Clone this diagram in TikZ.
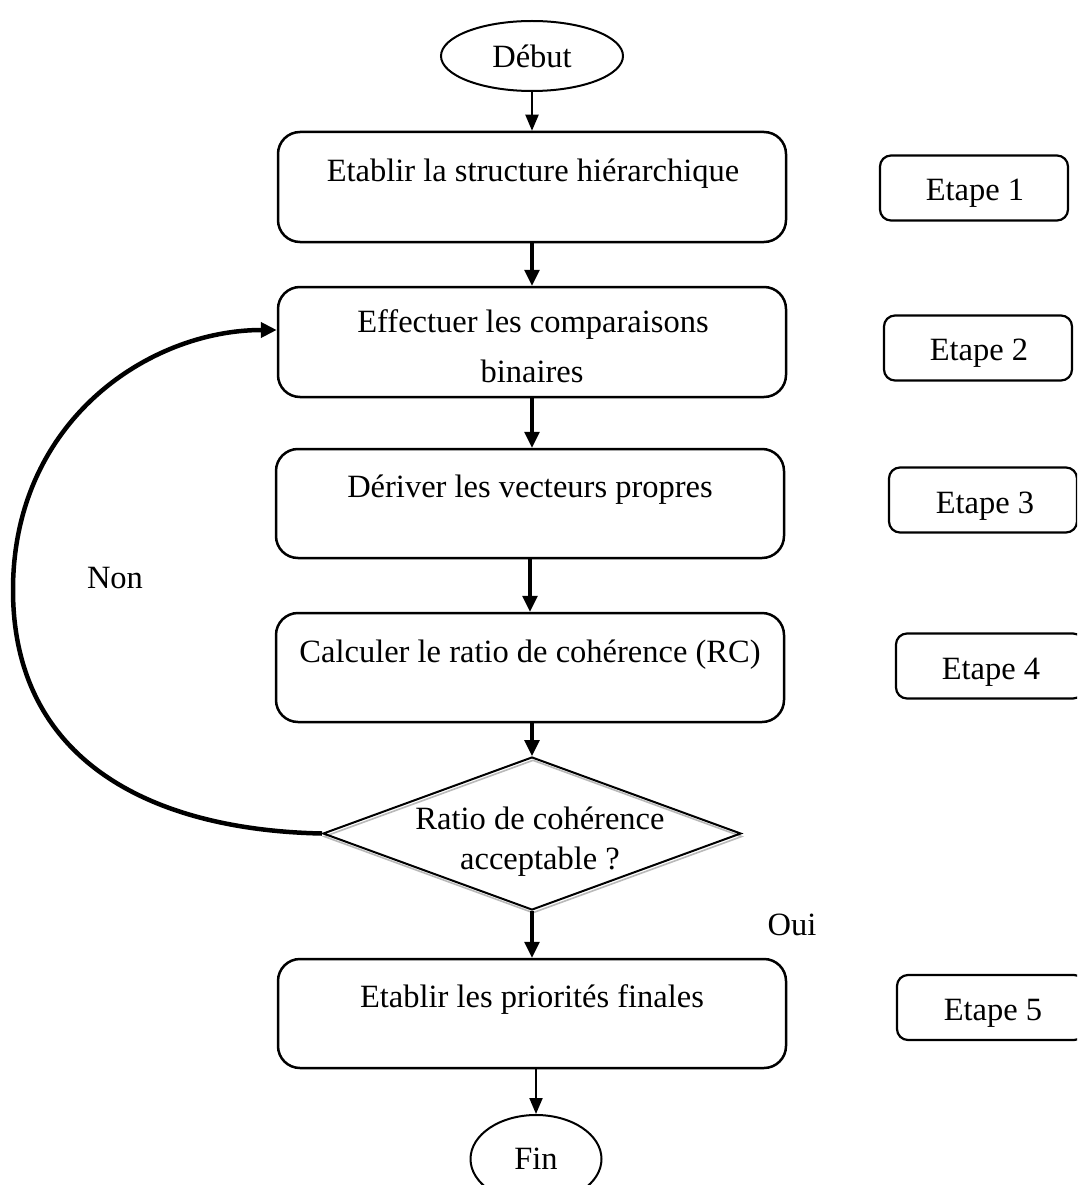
\documentclass[tikz,border=0pt]{standalone}
\usepackage{fontspec}
\setmainfont{Liberation Serif}
\usetikzlibrary{arrows.meta,shapes.geometric}
\begin{document}
\begin{tikzpicture}[x=1pt,y=-1pt,
  every node/.style={font=\fontsize{32.5}{38}\selectfont},
  box/.style={draw, line width=2.5pt, rounded corners=22pt, minimum width=508pt, minimum height=110pt, inner sep=0pt},
  stepbox/.style={draw, line width=2.2pt, rounded corners=11pt, minimum width=188pt, minimum height=65pt, inner sep=0pt},
  lbl/.style={inner sep=0pt},
  oval/.style={draw, ellipse, line width=2pt, inner sep=0pt},
  dmd/.style={diamond, inner sep=0pt, minimum width=418pt, minimum height=153pt},
  thickarrow/.style={line width=3.2pt, -{Triangle[length=16pt,width=15pt]}},
  thinarrow/.style={line width=2pt, -{Triangle[length=16pt,width=13pt]}},
  loop/.style={line width=4.5pt, -{Triangle[length=16pt,width=15pt]}},
]
\clip (0,0) rectangle (1077,1185);
\fill[white] (0,0) rectangle (1077,1185);

% start / end
\node[oval, minimum width=182pt, minimum height=70pt] (debut) at (532,56) {Début};
\node[oval, minimum width=131pt, minimum height=88pt] (fin) at (536,1159) {Fin};

% main boxes
\node[box] (b1) at (532,187) {};
\node[lbl] (t1) at (533,174) {Etablir la structure hiérarchique};
\node[box] (b2) at (532,342) {};
\node[lbl] (t2a) at (533,325) {Effectuer les comparaisons};
\node[lbl] (t2b) at (532,371) {binaires};
\node[box, minimum height=109pt] (b3) at (530,503.5) {};
\node[lbl] (t3) at (530,490) {Dériver les vecteurs propres};
\node[box, minimum height=109pt] (b4) at (530,667.5) {};
\node[lbl] (t4) at (530,655) {Calculer le ratio de cohérence (RC)};
\node[box, minimum height=109pt] (b5) at (532,1013.5) {};
\node[lbl] (t5) at (532,1000) {Etablir les priorités finales};

% decision
\node[dmd, draw=gray!55, line width=1.6pt] (diash) at (533,836.5) {};
\node[dmd, draw, line width=2pt] (dia) at (532,833.5) {};
\node[lbl] (td1) at (540,818) {Ratio de cohérence};
\node[lbl] (td2) at (540,862) {acceptable ?};

% step labels
\node[stepbox] (e1) at (974,188) {};
\node[lbl] at (975,193) {Etape 1};
\node[stepbox] (e2) at (978,348) {};
\node[lbl] at (979,353) {Etape 2};
\node[stepbox] (e3) at (983,500) {};
\node[lbl] at (985,506) {Etape 3};
\node[stepbox] (e4) at (990,666) {};
\node[lbl] at (991,672) {Etape 4};
\node[stepbox] (e5) at (991,1007.5) {};
\node[lbl] at (993,1013) {Etape 5};

% side labels
\node[lbl] (non) at (115,578) {Non};
\node[lbl] (oui) at (792,925) {Oui};

% connectors
\draw[thinarrow] (debut.south) -- (b1.north);
\draw[thickarrow] (b1.south) -- (b2.north);
\draw[thickarrow] (b2.south) -- (b2.south |- b3.north);
\draw[thickarrow] (b3.south) -- (b4.north);
\draw[thickarrow] (dia.north |- b4.south) -- (dia.north);
\draw[thickarrow] (dia.south) -- (b5.north);
\draw[thinarrow] (fin.north |- b5.south) -- (fin.north);
\path (b2.west) ++(0,-12) coordinate (b2in);
\draw[loop] (dia.west) .. controls (150,830) and (13,760) .. (13,590)
  .. controls (13,420) and (150,330) .. (b2in);
\end{tikzpicture}
\end{document}
